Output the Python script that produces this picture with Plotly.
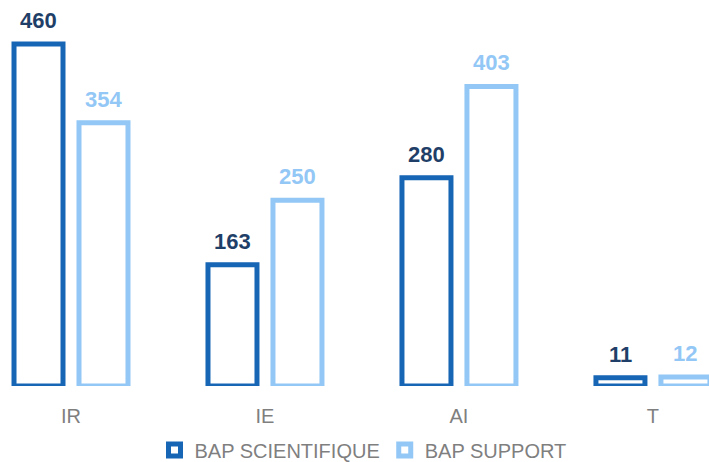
import plotly.graph_objects as go

categories = ["IR", "IE", "AI", "T"]
series_names = ["BAP SCIENTIFIQUE", "BAP SUPPORT"]
sci_values = [460, 163, 280, 11]
sup_values = [354, 250, 403, 12]

bar_colors = ["#1766b5", "#92c7f6"]
label_colors = ["#1f3f68", "#92c7f6"]

fig = go.Figure()
for name, vals, col in zip(series_names, [sci_values, sup_values], bar_colors):
    fig.add_trace(go.Bar(
        x=categories, y=vals, name=name,
        marker=dict(color="white", line=dict(color=col, width=5)),
        cliponaxis=False,
    ))

annotations = []
for vals, lc, shift in zip([sci_values, sup_values], label_colors, [-32.5, 32.5]):
    for c, v in zip(categories, vals):
        annotations.append(dict(
            x=c, y=v, xref="x", yref="y", text=f"<b>{v}</b>",
            showarrow=False, xshift=shift, yshift=9, yanchor="bottom",
            font=dict(size=22, color=lc, family="Liberation Sans, Arial, sans-serif"),
        ))

fig.update_layout(
    width=709, height=462,
    margin=dict(l=0, r=0, t=20, b=76, autoexpand=False),
    paper_bgcolor="white", plot_bgcolor="white",
    barmode="group", bargap=0.33, bargroupgap=0.246,
    font=dict(family="Liberation Sans, Arial, sans-serif", color="#7f7f7f", size=20),
    xaxis=dict(range=[-0.366, 3.289], showgrid=False, zeroline=False, showline=False,
               ticks="outside", ticklen=12, tickcolor="rgba(0,0,0,0)",
               tickfont=dict(size=20, color="#7f7f7f")),
    yaxis=dict(range=[0, 492.3], visible=False, showgrid=False, zeroline=False),
    legend=dict(orientation="h", x=0.512, xanchor="center", y=-0.175, yanchor="middle",
                font=dict(size=20, color="#7f7f7f"), itemwidth=30,
                tracegroupgap=0),
    annotations=annotations,
    showlegend=True,
)

fig.write_html("out.html", config={"displayModeBar": False},
               post_script="document.body.style.margin='0';document.body.style.padding='0';")
